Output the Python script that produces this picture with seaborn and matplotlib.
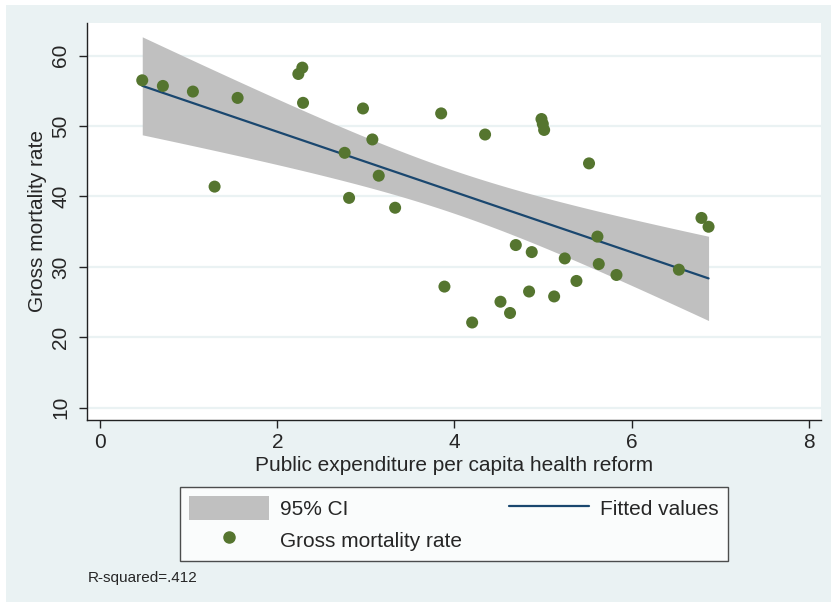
import numpy as np
import pandas as pd
import matplotlib
matplotlib.use('Agg')
import matplotlib.pyplot as plt
from matplotlib.patches import Rectangle, Patch
from matplotlib.lines import Line2D
import seaborn as sns

# ── Data ──────────────────────────────────────────────────────────────────────
expenditure = [0.474, 0.707, 1.046, 1.291, 1.551, 2.237, 2.282, 2.290, 2.760,
               2.810, 2.967, 3.073, 3.145, 3.330, 3.850, 3.887, 4.200, 4.346,
               4.520, 4.628, 4.693, 4.843, 4.873, 4.983, 4.998, 5.013, 5.126,
               5.246, 5.378, 5.520, 5.615, 5.630, 5.830, 6.535, 6.790, 6.870]
mortality = [56.5, 55.7, 54.9, 41.4, 54.0, 57.4, 58.3, 53.3, 46.2,
             39.8, 52.5, 48.1, 42.95, 38.4, 51.8, 27.2, 22.1, 48.8,
             25.05, 23.45, 33.1, 26.5, 32.1, 51.0, 50.3, 49.45, 25.8,
             31.2, 28.0, 44.7, 34.3, 30.4, 28.85, 29.6, 36.95, 35.7]
x_ticks = [0, 2, 4, 6, 8]
y_ticks = [10, 20, 30, 40, 50, 60]
r2_text = 'R-squared=.412'
t_975 = 2.032  # t quantile, df = 34

df = pd.DataFrame({'x': expenditure, 'y': mortality})

# ── OLS fit and 95% CI of the mean prediction ────────────────────────────────
x = df['x'].to_numpy()
y = df['y'].to_numpy()
n = len(x)
b1, b0 = np.polyfit(x, y, 1)
resid = y - (b0 + b1 * x)
s = np.sqrt((resid ** 2).sum() / (n - 2))
sxx = ((x - x.mean()) ** 2).sum()
xg = np.linspace(x.min(), x.max(), 100)
yg = b0 + b1 * xg
se = s * np.sqrt(1 / n + (xg - x.mean()) ** 2 / sxx)
fit = pd.DataFrame({'x': xg, 'y': yg, 'lo': yg - t_975 * se, 'hi': yg + t_975 * se})

# ── Style ────────────────────────────────────────────────────────────────────
sns.set_style('white')
plt.rcParams['font.family'] = ['Liberation Sans', 'DejaVu Sans']

BG = '#EAF2F3'
NAVY = '#1A476F'
GREEN = '#55752F'
CI_GREY = '#C0C0C0'

W, H = 831, 602
fig = plt.figure(figsize=(W / 100, H / 100), dpi=100, facecolor='white')
fig.patches.append(Rectangle((6 / W, 0), 1 - 6 / W, 1 - 5 / H,
                             transform=fig.transFigure, facecolor=BG,
                             edgecolor='none', zorder=-10))
ax = fig.add_axes([87 / W, 1 - 420 / H, (821 - 87) / W, (420 - 23) / H])
ax.set_facecolor('white')

ax.fill_between(fit['x'], fit['lo'], fit['hi'], color=CI_GREY, lw=0, zorder=1)
sns.lineplot(data=fit, x='x', y='y', color=NAVY, lw=1.6, ax=ax, zorder=2)
sns.scatterplot(data=df, x='x', y='y', color=GREEN, s=75, edgecolor='none',
                ax=ax, zorder=3)

ax.set_xlim(-0.15, 8.14)
ax.set_ylim(8.25, 64.64)
ax.set_xticks(x_ticks)
ax.set_yticks(y_ticks)
ax.grid(axis='y', color=BG, lw=1.6)
ax.grid(axis='x', visible=False)
ax.set_axisbelow(True)

for side in ['top', 'right']:
    ax.spines[side].set_visible(False)
for side in ['left', 'bottom']:
    ax.spines[side].set_color('#222222')
    ax.spines[side].set_linewidth(1.0)

ax.tick_params(axis='both', direction='out', length=6, width=1,
               color='#222222', labelsize=15, bottom=True, left=True)
ax.tick_params(axis='y', labelrotation=90, pad=6)
for lab in ax.get_yticklabels():
    lab.set_va('center')

ax.set_xlabel('Public expenditure per capita health reform', fontsize=15,
              labelpad=3)
ax.set_ylabel('Gross mortality rate', fontsize=15, labelpad=3)

# ── Legend ────────────────────────────────────────────────────────────────────
handles = [
    Patch(facecolor=CI_GREY, edgecolor='none'),
    Line2D([], [], marker='o', color=GREEN, lw=0, markersize=8),
    Line2D([], [], color=NAVY, lw=1.6),
]
labels = ['95% CI', 'Gross mortality rate', 'Fitted values']
leg = fig.legend(handles, labels, ncol=2, mode='expand', loc='upper left',
                 bbox_to_anchor=(180 / W, 1 - 555 / H, 548 / W, 68 / H),
                 frameon=True, fancybox=False, fontsize=15,
                 handlelength=3.8, handleheight=1.35, handletextpad=0.55,
                 borderpad=0.45, labelspacing=0.4, borderaxespad=0)
leg.get_frame().set_edgecolor('#222222')
leg.get_frame().set_linewidth(1.0)
leg.get_frame().set_facecolor('white')

fig.text(88 / W, 1 - 578 / H, r2_text, fontsize=11, va='center', ha='left')

fig.savefig('out.png', dpi=100, facecolor=fig.get_facecolor())
